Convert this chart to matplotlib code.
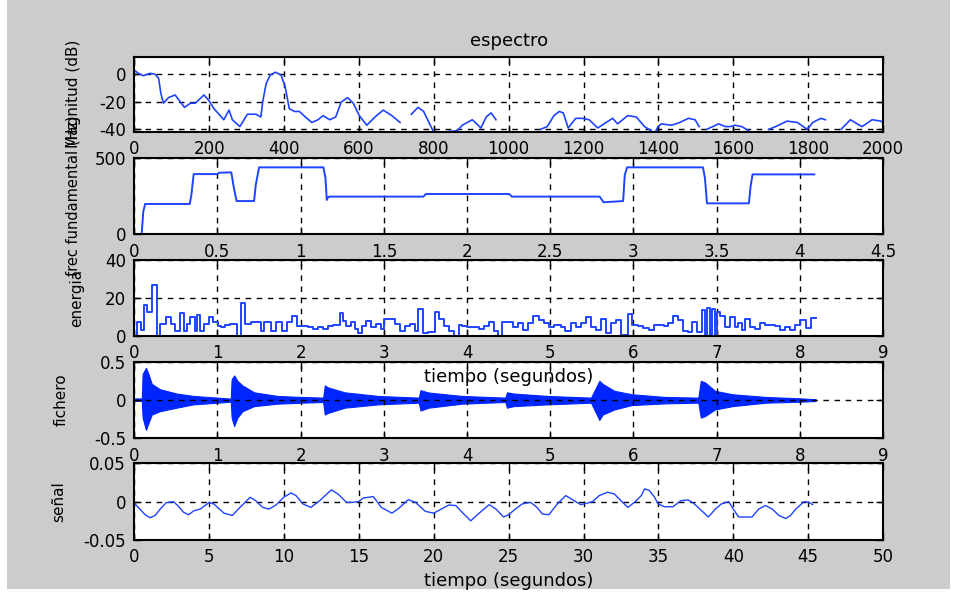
import numpy as np
import matplotlib

matplotlib.use("Agg")
import matplotlib.pyplot as plt
from matplotlib.patches import Rectangle
from matplotlib.ticker import FuncFormatter

# espectro: frequency (Hz) vs magnitude (dB); NaN marks where the curve drops out of view
espectro_f = [0, 11, 24, 42, 56, 65, 71, 78, 91, 109, 134, 150, 163, 186, 199, 213,
              239, 253, 262, 282, 302, 325, 338, 343, 352, 363, 377, 392, 403, 414,
              428, 441, 457, 474, 491, 504, 522, 538, 553, 570, 585, 601, 621, 643,
              665, 688, 710, 725, 740, 758, 773, 796, 805, 820, 835, 840, 863, 876,
              903, 926, 940, 953, 966, 1020, 1085, 1103, 1121, 1135, 1146, 1159,
              1179, 1197, 1215, 1238, 1260, 1278, 1291, 1318, 1341, 1363, 1381,
              1390, 1399, 1408, 1435, 1457, 1480, 1498, 1509, 1520, 1529, 1561,
              1579, 1592, 1605, 1623, 1641, 1670, 1695, 1713, 1744, 1771, 1798,
              1812, 1834, 1846, 1870, 1888, 1913, 1931, 1944, 1971, 1994, 2000]
espectro_db = [3, 0.7, -1, 0.7, 0, -3, -14, -21, -17, -15, -24, -21, -21, -15, -19,
               -25, -33, -26, -33, -38, -29, -29, -31, -20, -7, -0.5, 1.5, -0.5, -9,
               -25, -27, -27, -31, -35, -33, -30, -33, -31, -20, -17, -21, -30, -37,
               -31, -26, -30, -35, np.nan, -29, -24, -27, -40, -44, np.nan, -44,
               -41.5, -41, -37, -33, -39, -31, -28, -33, np.nan, -40, -38, -30, -27,
               -28, -39, -32, -32, -33, -39, -35, -32, -36, -30, -31, -38, -41,
               -43, -38, -36, -37, -35, -32, -33, -38, np.nan, -40, -36, -38, -38,
               -37, -38, -41, np.nan, -40, -38, -34, -35, -40, -35, -32, -33,
               np.nan, -40, -33, -36, -38, -33, -34, -35]

# frec fundamental (Hz) over time (s)
f0_t = [0.014, 0.044, 0.054, 0.065, 0.333, 0.343, 0.357, 0.498, 0.51, 0.583, 0.599,
        0.615, 0.720, 0.730, 0.750, 1.137, 1.149, 1.157, 1.163, 1.173, 1.738, 1.752,
        2.252, 2.27, 2.797, 2.821, 2.938, 2.948, 2.962, 3.418, 3.43, 3.442, 3.694,
        3.704, 3.716, 4.087]
f0_hz = [0, 0, 148, 198, 198, 257, 393, 393, 402, 404, 300, 217, 217, 322, 437, 437,
         365, 224, 240, 246, 246, 263, 263, 246, 246, 209, 217, 387, 437, 437, 365,
         202, 202, 311, 391, 391]

# energia per frame: step start times and levels
energia_t = [0.0, 0.036, 0.077, 0.117, 0.157, 0.21, 0.27, 0.31, 0.383, 0.444, 0.484,
             0.544, 0.593, 0.633, 0.673, 0.726, 0.754, 0.794, 0.835, 0.895, 0.948,
             1.004, 1.044, 1.085, 1.149, 1.23, 1.278, 1.327, 1.4, 1.52, 1.56, 1.64,
             1.70, 1.78, 1.84, 1.90, 1.96, 2.085, 2.145, 2.206, 2.266, 2.327, 2.387,
             2.468, 2.508, 2.548, 2.609, 2.649, 2.69, 2.738, 2.79, 2.85, 2.91, 2.97,
             3.0, 3.133, 3.194, 3.254, 3.315, 3.375, 3.415, 3.476, 3.536, 3.617,
             3.657, 3.718, 3.778, 3.839, 3.9, 3.94, 4.0, 4.141, 4.202, 4.262, 4.323,
             4.375, 4.423, 4.55, 4.61, 4.67, 4.73, 4.79, 4.87, 4.93, 4.99, 5.05,
             5.13, 5.18, 5.25, 5.31, 5.37, 5.43, 5.49, 5.55, 5.61, 5.67, 5.73, 5.79,
             5.85, 5.93, 5.98, 6.05, 6.11, 6.19, 6.25, 6.37, 6.41, 6.47, 6.53, 6.59,
             6.65, 6.71, 6.76, 6.82, 6.86, 6.88, 6.92, 6.94, 6.98, 7.0, 7.04, 7.1,
             7.16, 7.22, 7.26, 7.3, 7.34, 7.4, 7.46, 7.52, 7.58, 7.7, 7.76, 7.82,
             7.88, 7.94, 8.0, 8.08, 8.14, 8.19]
energia_val = [0, 7.4, 3.2, 16.3, 12.4, 26.9, 0, 6.2, 9.7, 6.2, 2.7, 11.9, 2.7, 6.2,
               9.7, 2.7, 11, 2.7, 6.2, 9.7, 7, 5, 4.4, 5.8, 6.2, 0, 17.2, 6.2, 7.4,
               2.7, 7.4, 2.7, 7.4, 2.7, 7.4, 10.6, 5.3, 4.4, 3.5, 4.4, 3.5, 5.3, 5.8,
               11.9, 8, 5.3, 7, 3.5, 1.4, 5.3, 8, 4.4, 6.2, 3.5, 8.9, 6.2, 2.7, 5.3,
               6.2, 2.7, 14.2, 1.4, 2.1, 12.7, 8.9, 5.3, 2.7, 0, 5.7, 5, 4.4, 3.5,
               5.3, 7, 2.7, 0, 7, 4.8, 6.5, 3.1, 6.5, 10.5, 8.3, 6.5, 4.8, 5.7, 4.8,
               2.6, 6.5, 4.8, 6.5, 10, 4.8, 3.1, 8.8, 1.4, 6.5, 8.3, 0.5, 11.5, 5.7,
               5.2, 4.0, 3.1, 5.7, 5.2, 6.5, 10.5, 8.3, 2.6, 2.2, 7.4, 2.2, 13.4, 0,
               14.6, 0, 14.2, 0, 12.6, 10.3, 4.8, 10, 4.8, 6.5, 3.1, 8.6, 4.8, 3.6,
               6.5, 5.7, 5.2, 3.1, 4.8, 3.1, 5.7, 8.3, 4.0, 9.5, 9.5]

# fichero: waveform envelope (upper / lower) over time (s)
fichero_t = [0, 0.09, 0.10, 0.14, 0.17, 0.21, 0.31, 0.51, 0.71, 1.0, 1.16, 1.17, 1.2,
             1.24, 1.3, 1.44, 1.72, 2.0, 2.27, 2.29, 2.33, 2.53, 2.93, 3.42, 3.44,
             3.54, 3.94, 4.46, 4.48, 4.56, 4.97, 5.49, 5.59, 5.63, 5.77, 5.98, 6.38,
             6.78, 6.81, 6.86, 6.98, 7.19, 7.59, 8.0, 8.19]
fichero_hi = [0.02, 0.02, 0.34, 0.42, 0.34, 0.21, 0.14, 0.084, 0.053, 0.031, 0.018,
              0.27, 0.32, 0.25, 0.19, 0.1, 0.053, 0.04, 0.031, 0.19, 0.164, 0.1,
              0.053, 0.031, 0.128, 0.097, 0.053, 0.031, 0.1, 0.084, 0.053, 0.031,
              0.25, 0.21, 0.12, 0.075, 0.04, 0.031, 0.25, 0.23, 0.12, 0.075, 0.04,
              0.022, 0.01]
fichero_lo = [-0.01, -0.01, -0.23, -0.39, -0.3, -0.19, -0.146, -0.10, -0.057, -0.035,
              -0.022, -0.23, -0.34, -0.23, -0.146, -0.08, -0.048, -0.035, -0.026,
              -0.19, -0.168, -0.10, -0.057, -0.035, -0.137, -0.10, -0.048, -0.026,
              -0.10, -0.08, -0.057, -0.035, -0.26, -0.19, -0.124, -0.066, -0.044,
              -0.035, -0.23, -0.21, -0.124, -0.08, -0.035, -0.022, -0.013]

# señal over time (s)
senal_t = [0, 0.27, 0.72, 1.05, 1.39, 1.73, 2.13, 2.62, 2.89, 3.3, 3.63, 3.97, 4.4,
           4.98, 5.31, 5.99, 6.55, 7.1, 7.74, 8.1, 8.57, 9.0, 9.46, 9.98, 10.47, 10.8,
           11.26, 11.8, 12.38, 13.16, 13.6, 14.17, 14.6, 14.96, 15.3, 15.96, 16.5,
           17.2, 17.6, 18.3, 18.77, 19.44, 20.0, 21.0, 21.46, 21.9, 22.47, 23.03,
           23.7, 24.15, 24.66, 25.0, 25.45, 25.9, 26.46, 26.9, 27.24, 27.69, 28.25,
           28.81, 29.37, 29.82, 30.27, 30.6, 31.05, 31.6, 32.06, 32.5, 32.96, 33.4,
           33.86, 34.08, 34.4, 34.75, 34.98, 35.4, 35.98, 36.5, 37.0, 37.4, 37.9,
           38.34, 38.8, 39.2, 39.7, 40.0, 40.36, 41.25, 41.7, 42.15, 42.6, 43.05,
           43.5, 43.83, 44.17, 44.73, 45.07, 45.3]
senal_val = [-0.002, -0.0075, -0.017, -0.021, -0.018, -0.0097, -0.0013, 0, -0.005,
             -0.014, -0.017, -0.012, -0.0097, -0.0013, -0.003, -0.015, -0.018,
             -0.0066, 0.0057, 0.0013, -0.0075, -0.0097, -0.0044, 0.0057, 0.0114,
             0.0079, -0.003, -0.0075, 0.0013, 0.0154, 0.010, -0.0009, -0.0009, 0,
             0.0048, 0.0066, -0.0075, -0.015, -0.0097, 0.0026, -0.0009, -0.0127,
             -0.015, -0.0044, -0.005, -0.014, -0.025, -0.015, -0.0039, -0.0097,
             -0.02, -0.017, -0.0097, -0.003, -0.0009, -0.0075, -0.016, -0.017,
             -0.003, 0.0079, 0.0013, -0.0039, -0.0018, 0, 0.0079, 0.0123, 0.010,
             0.0013, -0.0075, -0.0009, 0.0079, 0.0167, 0.0145, 0.0057, -0.003,
             -0.0066, -0.0066, 0.0013, 0.0022, -0.003, -0.012, -0.02, -0.0097,
             -0.003, 0, -0.0097, -0.02, -0.02, -0.0097, -0.005, -0.0097, -0.018,
             -0.022, -0.018, -0.0097, 0, -0.0009, -0.0039]

BLUE = "#1f44ff"
GRAY = "#cccccc"
W, H = 958, 594

plt.rcParams["font.family"] = ["DejaVu Sans"]
plt.rcParams["axes.unicode_minus"] = False

fig = plt.figure(figsize=(W / 100, H / 100), dpi=100, facecolor="white")
# grey window panel with a thin white margin round it, kept behind every axes
fig.patches.append(Rectangle((7 / W, 5 / H), (950 - 7) / W, 1 - 5 / H,
                             transform=fig.transFigure, facecolor=GRAY,
                             edgecolor="none", zorder=-10))


def add_axes(top, bottom, left=134.3, right=883.0):
    return fig.add_axes([left / W, 1 - bottom / H, (right - left) / W, (bottom - top) / H])


def style(ax, xticks, yticks):
    ax.set_xticks(xticks)
    ax.set_yticks(yticks)
    fmt = FuncFormatter(lambda v, _: f"{v:g}")
    ax.xaxis.set_major_formatter(fmt)
    ax.yaxis.set_major_formatter(fmt)
    ax.tick_params(direction="in", length=5, width=1, top=True, right=True,
                   labelsize=12, pad=6, colors="black")
    ax.grid(True, color="black", linestyle=(0, (4, 4)), linewidth=1)
    for s in ax.spines.values():
        s.set_linewidth(1.5)
        s.set_zorder(5)


ax1 = add_axes(56.7, 131.7)
ax2 = add_axes(157.7, 234.3)
ax3 = add_axes(259.7, 335.7)
ax4 = add_axes(361.7, 438.3)
ax5 = add_axes(463.3, 540.0)

# espectro
ax1.plot(espectro_f, espectro_db, color=BLUE, linewidth=1.2)
ax1.set_xlim(0, 2000)
ax1.set_ylim(-41.7, 12.8)
style(ax1, np.arange(0, 2001, 200), [-40, -20, 0])
ax1.set_title("espectro", fontsize=13, pad=8)
ax1.set_ylabel("Magnitud (dB)", fontsize=11, labelpad=13)

# frec fundamental
ax2.plot(f0_t, f0_hz, color=BLUE, linewidth=1.4)
ax2.set_xlim(0, 4.5)
ax2.set_ylim(0, 500)
style(ax2, np.arange(0, 4.51, 0.5), [0, 500])
ax2.set_ylabel("frec fundamental (Hz)", fontsize=10.5, labelpad=10)

# energia
ax3.step(energia_t, energia_val, where="post", color=BLUE, linewidth=1.4)
ax3.set_xlim(0, 9)
ax3.set_ylim(0, 40)
style(ax3, np.arange(0, 10), [0, 20, 40])
ax3.set_ylabel("energia", fontsize=11, labelpad=15)
ax3.set_xlabel("tiempo (segundos)", fontsize=13, labelpad=4)
ax3.set_zorder(1)  # its xlabel lands on top of the waveform panel

# fichero
ax4.fill_between(fichero_t, fichero_lo, fichero_hi, color="#0026ff", linewidth=0.8,
                 edgecolor="#0026ff")
ax4.set_xlim(0, 9)
ax4.set_ylim(-0.5, 0.5)
style(ax4, np.arange(0, 10), [-0.5, 0, 0.5])
ax4.set_ylabel("fichero", fontsize=11, labelpad=18)

# señal
ax5.plot(senal_t, senal_val, color=BLUE, linewidth=1.0)
ax5.set_xlim(0, 50)
ax5.set_ylim(-0.05, 0.05)
style(ax5, np.arange(0, 51, 5), [-0.05, 0, 0.05])
ax5.set_ylabel("señal", fontsize=11, labelpad=12)
ax5.set_xlabel("tiempo (segundos)", fontsize=13, labelpad=4)

fig.savefig("out.png", dpi=100, facecolor="white")
